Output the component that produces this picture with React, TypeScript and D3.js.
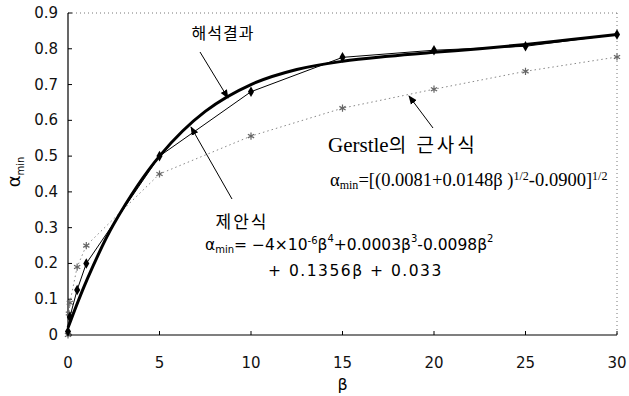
import * as d3 from 'd3';
import React from 'react';

// beta values at which analysis / Gerstle points are plotted
const analysisBeta = [0, 0.1, 0.5, 1, 5, 10, 15, 20, 25, 30];
const analysisAlpha = [0.01, 0.05, 0.126, 0.2, 0.5, 0.68, 0.776, 0.796, 0.807, 0.84];

const gerstleBeta = [0, 0.05, 0.1, 0.5, 1, 5, 10, 15, 20, 25, 30];
const gerstleAlpha = [0, 0.06, 0.09, 0.19, 0.25, 0.45, 0.556, 0.634, 0.687, 0.737, 0.777];

// proposed formula curve (thick line)
const proposedBeta = [0, 1, 2.5, 5, 7.5, 10, 12.5, 15, 17.5, 20, 22.5, 25, 27.5, 30];
const proposedAlpha = [0.02, 0.15, 0.31, 0.5, 0.625, 0.7, 0.742, 0.765, 0.779, 0.79, 0.8, 0.812, 0.826, 0.84];

const xTicks = [0, 5, 10, 15, 20, 25, 30];
const yTicks = [0, 0.1, 0.2, 0.3, 0.4, 0.5, 0.6, 0.7, 0.8, 0.9];

const W = 629, H = 396;

export default function App() {
  const x = d3.scaleLinear().domain([0, 30]).range([68, 617]);
  const y = d3.scaleLinear().domain([0, 0.9]).range([335, 13]);

  const line = d3.line<number[]>()
    .x(d => x(d[0]))
    .y(d => y(d[1]));
  const smooth = d3.line<number[]>()
    .x(d => x(d[0]))
    .y(d => y(d[1]))
    .curve(d3.curveCatmullRom);

  const analysis = analysisBeta.map((b, i) => [b, analysisAlpha[i]]);
  const gerstle = gerstleBeta.map((b, i) => [b, gerstleAlpha[i]]);
  const proposed = proposedBeta.map((b, i) => [b, proposedAlpha[i]]);

  const diamond = d3.symbol().type(d3.symbolDiamond).size(32)();
  const star = d3.symbol().type(d3.symbolAsterisk).size(36)();

  const sans = 'DejaVu Sans, sans-serif';
  const kr = '"Noto Sans CJK KR", sans-serif';
  const serif = '"Liberation Serif", serif';

  return (
    <svg width={W} height={H} style={{ position: 'absolute', left: 0, top: 0, background: '#fff' }}>
      <defs>
        <marker id="ah" viewBox="0 0 10 10" refX="9" refY="5" markerWidth="9" markerHeight="9" orient="auto">
          <path d="M0,1 L10,5 L0,9 Z" fill="#000" />
        </marker>
      </defs>

      {/* frame: top and right dotted */}
      <line x1={x(0)} x2={x(30)} y1={y(0.9)} y2={y(0.9)} stroke="#777" strokeDasharray="1,3" />
      <line x1={x(30)} x2={x(30)} y1={y(0.9)} y2={y(0)} stroke="#777" strokeDasharray="1,3" />
      <line x1={x(0)} x2={x(30)} y1={y(0)} y2={y(0)} stroke="#000" strokeWidth={1.2} />
      <line x1={x(0)} x2={x(0)} y1={y(0.9)} y2={y(0)} stroke="#000" strokeWidth={1.2} />

      {yTicks.map(t => (
        <g key={'y' + t}>
          <line x1={x(0)} x2={x(0) + 4} y1={y(t)} y2={y(t)} stroke="#000" />
          <text x={58} y={y(t) + 5} textAnchor="end" fontFamily={sans} fontSize={15} fill="#111">
            {t === 0 ? '0' : t.toFixed(1)}
          </text>
        </g>
      ))}
      {xTicks.map(t => (
        <g key={'x' + t}>
          <line x1={x(t)} x2={x(t)} y1={y(0)} y2={y(0) - 4} stroke="#000" />
          <text x={x(t)} y={368} textAnchor="middle" fontFamily={sans} fontSize={15} fill="#111">
            {t}
          </text>
        </g>
      ))}

      <text x={x(15)} y={390} textAnchor="middle" fontFamily={sans} fontSize={16}>β</text>
      <text transform="translate(20,172) rotate(-90)" textAnchor="middle" fontFamily={sans} fontSize={18}>
        α<tspan fontSize={10} dy={4}>min</tspan>
      </text>

      {/* Gerstle approximation: dotted with asterisks */}
      <path d={line(gerstle) || ''} fill="none" stroke="#888" strokeWidth={1} strokeDasharray="1.5,3" />
      {gerstle.map((d, i) => (
        <path key={'g' + i} d={star || ''} transform={`translate(${x(d[0])},${y(d[1])})`} stroke="#666" strokeWidth={1.2} fill="none" />
      ))}

      {/* proposed formula: thick smooth curve */}
      <path d={smooth(proposed) || ''} fill="none" stroke="#000" strokeWidth={3} />

      {/* analysis results: thin line with diamonds */}
      <path d={line(analysis) || ''} fill="none" stroke="#000" strokeWidth={1} />
      {analysis.map((d, i) => (
        <path key={'a' + i} d={diamond || ''} transform={`translate(${x(d[0])},${y(d[1])})`} fill="#000" />
      ))}

      {/* annotations */}
      <text x={223} y={39} textAnchor="middle" fontFamily={kr} fontSize={16} letterSpacing={1}>해석결과</text>
      <line x1={200} y1={52} x2={228} y2={98} stroke="#000" strokeWidth={1} markerEnd="url(#ah)" />

      <text x={242} y={228} textAnchor="middle" fontFamily={kr} fontSize={17} letterSpacing={2}>제안식</text>
      <line x1={232} y1={199} x2={191} y2={127} stroke="#000" strokeWidth={1} markerEnd="url(#ah)" />

      <text x={205} y={250} fontFamily={sans} fontSize={15.5}>
        α<tspan fontSize={10} dy={3}>min</tspan>
        <tspan dy={-3}>= −4×10</tspan>
        <tspan fontSize={10} dy={-6}>-6</tspan>
        <tspan dy={6}>β</tspan>
        <tspan fontSize={10} dy={-8}>4</tspan>
        <tspan dy={8}>+0.0003β</tspan>
        <tspan fontSize={10} dy={-8}>3</tspan>
        <tspan dy={8}>-0.0098β</tspan>
        <tspan fontSize={10} dy={-8}>2</tspan>
      </text>
      <text x={268} y={276} fontFamily={sans} fontSize={15.5} letterSpacing={1.5}>+ 0.1356β + 0.033</text>

      <text x={328} y={152} fontFamily={serif} fontSize={21}>
        Gerstle<tspan fontFamily={kr} fontSize={19} letterSpacing={3}>의 근사식</tspan>
      </text>
      <line x1={433} y1={128} x2={409} y2={96} stroke="#000" strokeWidth={1} markerEnd="url(#ah)" />

      <text x={330} y={186} fontFamily={serif} fontSize={18.5}>
        α<tspan fontSize={12} dy={3}>min</tspan>
        <tspan dy={-3}>=[(0.0081+0.0148β )</tspan>
        <tspan fontSize={12} dy={-6}>1/2</tspan>
        <tspan dy={6}>-0.0900]</tspan>
        <tspan fontSize={12} dy={-6}>1/2</tspan>
      </text>
    </svg>
  );
}
